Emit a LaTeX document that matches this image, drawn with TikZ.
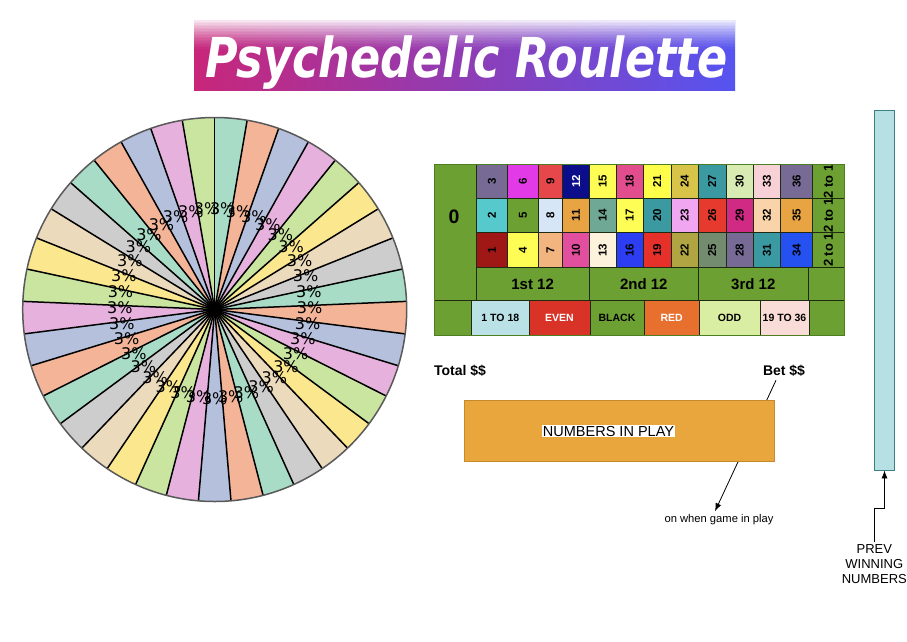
\documentclass[tikz,border=0pt]{standalone}
\usepackage{graphicx}
\usepackage{fontspec}
\setmainfont{Liberation Sans}
\newfontfamily\wheelfont{DejaVu Sans}
\newfontfamily\titlefont{DejaVu Sans Bold Oblique}
\usetikzlibrary{arrows.meta}

% wheel colours
\definecolor{pie0}{HTML}{A8DCC6}
\definecolor{pie1}{HTML}{F3B497}
\definecolor{pie2}{HTML}{B5C0DD}
\definecolor{pie3}{HTML}{E7B1DD}
\definecolor{pie4}{HTML}{CAE5A0}
\definecolor{pie5}{HTML}{FBE78E}
\definecolor{pie6}{HTML}{ECDABC}
\definecolor{pie7}{HTML}{CDCDCD}
% table colours
\definecolor{felt}{HTML}{6CA032}
\definecolor{feltdark}{HTML}{4E7E22}
\definecolor{cellline}{HTML}{1F2A12}
\definecolor{c1}{HTML}{A01816}  \definecolor{c2}{HTML}{55C9CB}  \definecolor{c3}{HTML}{776B96}
\definecolor{c4}{HTML}{FDFD55}  \definecolor{c5}{HTML}{6CA032}  \definecolor{c6}{HTML}{E23AE6}
\definecolor{c7}{HTML}{F2B57F}  \definecolor{c8}{HTML}{D7E6F6}  \definecolor{c9}{HTML}{E6474A}
\definecolor{c10}{HTML}{E34F9F} \definecolor{c11}{HTML}{E8A442} \definecolor{c12}{HTML}{0B0D8A}
\definecolor{c13}{HTML}{FDF2DC} \definecolor{c14}{HTML}{70A896} \definecolor{c15}{HTML}{FDFD55}
\definecolor{c16}{HTML}{2D3EF2} \definecolor{c17}{HTML}{FDFD55} \definecolor{c18}{HTML}{E24D8E}
\definecolor{c19}{HTML}{E6302A} \definecolor{c20}{HTML}{3B9AA1} \definecolor{c21}{HTML}{FDFD4A}
\definecolor{c22}{HTML}{B0A542} \definecolor{c23}{HTML}{F1A6F2} \definecolor{c24}{HTML}{D9C44A}
\definecolor{c25}{HTML}{738B6F} \definecolor{c26}{HTML}{E63A2E} \definecolor{c27}{HTML}{3B9AA1}
\definecolor{c28}{HTML}{776B96} \definecolor{c29}{HTML}{D02A85} \definecolor{c30}{HTML}{D8EBB3}
\definecolor{c31}{HTML}{3B9AA1} \definecolor{c32}{HTML}{F9D4AB} \definecolor{c33}{HTML}{F8D1D6}
\definecolor{c34}{HTML}{2451F0} \definecolor{c35}{HTML}{E8A442} \definecolor{c36}{HTML}{776B96}
\definecolor{low}{HTML}{B9E1E6}
\definecolor{even}{HTML}{D93327}
\definecolor{redbet}{HTML}{E8702F}
\definecolor{odd}{HTML}{D9EDA3}
\definecolor{high}{HTML}{F9DCD8}
% other colours
\definecolor{titleL}{HTML}{C8267A}
\definecolor{titleM}{HTML}{962CAE}
\definecolor{titleR}{HTML}{5654F0}
\definecolor{playfill}{HTML}{E8A63D}
\definecolor{playline}{HTML}{C48A2C}
\definecolor{barfill}{HTML}{B7E0E5}
\definecolor{barline}{HTML}{3D7F82}

\begin{document}
\begin{tikzpicture}[x=1pt, y=-1pt,
    grid/.style={draw=cellline, line width=0.9pt},
    num/.style={font=\fontsize{11.5}{12}\selectfont\bfseries, rotate=90, inner sep=0pt},
    colbet/.style={font=\fontsize{13}{14}\selectfont\bfseries, rotate=90, inner sep=0pt},
    dozen/.style={font=\fontsize{15}{16}\selectfont\bfseries, inner sep=0pt},
    outside/.style={font=\fontsize{10.5}{11}\selectfont\bfseries, inner sep=0pt},
    pct/.style={font=\wheelfont\fontsize{16}{16}\selectfont, inner sep=0pt},
    lbl/.style={font=\fontsize{14}{15}\selectfont\bfseries},
    link/.style={-{Latex[length=8pt, width=6pt]}, line width=0.8pt}
]
\fill[white] (0,0) rectangle (907,641);
\useasboundingbox (0,0) rectangle (907,641);

% Title
\shade[left color=titleL, middle color=titleM, right color=titleR] (194,20) rectangle (735,90);
\foreach \s in {0,...,19}
  \fill[white, opacity={0.88*(1-\s/20)^1.4}] (194,{20+1.5*\s}) rectangle (735,{21.5+1.5*\s});
\node[anchor=base, text=white, font=\titlefont\fontsize{55}{55}\selectfont] (title) at (467,77)
  {\scalebox{0.81}[1]{Psychedelic Roulette}};

% Wheel
\coordinate (wc) at (214.7,309.5);
\foreach \i in {0,...,36} {
  \pgfmathtruncatemacro\ci{mod(\i,8)}
  \pgfmathsetmacro\a{\i*360/37-90}
  \pgfmathsetmacro\b{(\i+1)*360/37-90}
  \fill[pie\ci] (wc) -- ++(\a:192) arc[start angle=\a, end angle=\b, radius=192] -- cycle;
}
\foreach \i in {0,...,36}
  \draw[line width=1.5pt] (wc) -- ++({\i*360/37-90}:192);
\draw[draw=black!65, line width=1.5pt] (wc) circle[radius=192];
\foreach \i in {0,...,36}
  \path (wc) ++({(\i+0.5)*360/37-90}:95) ++(0,-6) node[pct] (pct\i) {3\%};

% Table
\fill[felt] (434.3,164.3) rectangle (844.3,335);
\draw[grid] (434.3,164.3) rectangle (476,300.7);
\node[font=\fontsize{19.5}{20}\selectfont\bfseries] (zero) at (454,217) {0};

\foreach \xl/\xr [count=\c] in {476/507.7, 507.7/538.3, 538.3/562.7, 562.7/589.3,
    589.3/616, 616/643.3, 643.3/671, 671/698.3, 698.3/726, 726/753.3, 753.3/780.7, 780.7/812.7} {
  \foreach \yt/\yb/\d in {164.3/198.3/0, 198.3/232.7/1, 232.7/267.3/2} {
    \pgfmathtruncatemacro\n{3*\c-\d}
    \ifnum\n=12 \def\tcol{white}\else\def\tcol{black}\fi
    \filldraw[grid, fill=c\n] (\xl,\yt) rectangle (\xr,\yb);
    \node[num, text=\tcol] (n\n) at ({(\xl+\xr)/2},{(\yt+\yb)/2}) {\n};
  }
}

% 2 to 1
\foreach \yt/\yb [count=\r] in {164.3/198.3, 198.3/232.7, 232.7/267.3} {
  \draw[grid] (812.7,\yb) -- (844.3,\yb);
  \node[colbet] (col\r) at (828.5,{(\yt+\yb)/2}) {2 to 1};
}

% Dozens
\foreach \xl/\xr/\t [count=\k] in {476/589.3/1st 12, 589.3/698.3/2nd 12, 698.3/808.3/3rd 12} {
  \draw[grid] (\xl,267.3) rectangle (\xr,300.7);
  \node[dozen] (doz\k) at ({(\xl+\xr)/2},284.5) {\t};
}

% Outside bets
\foreach \xl/\xr/\fc/\tc/\t [count=\k] in {434.3/471.7/felt/black/, 471.7/529/low/black/1 TO 18,
    529/590/even/white/EVEN, 590/644/felt/black/BLACK, 644/699.3/redbet/white/RED,
    699.3/760/odd/black/ODD, 760/809/high/black/19 TO 36, 809/844.3/felt/black/} {
  \filldraw[grid, fill=\fc] (\xl,300.7) rectangle (\xr,335);
  \node[outside, text=\tc] (out\k) at ({(\xl+\xr)/2},318) {\t};
}
\draw[draw=feltdark, line width=0.9pt] (434.3,164.3) rectangle (844.3,335);

% Money
\node[lbl] (total) at (460,371) {Total \$\$};
\node[lbl] (bet) at (784,371) {Bet \$\$};
\node[font=\fontsize{11.2}{12}\selectfont] (onplay) at (719,520) {on when game in play};
\draw[link] ([xshift=-8pt]bet.south) -- ([xshift=-4pt]onplay.north);

\node[draw=playline, fill=playfill, line width=0.8pt, minimum width=310, minimum height=61] (play) at (619.3,430.5) {};
\node[fill=white, inner sep=1.2pt, font=\fontsize{14.5}{15}\selectfont] (playlbl) at (608.5,431) {NUMBERS IN PLAY};

% Previous numbers
\node[draw=barline, fill=barfill, line width=0.8pt, minimum width=20, minimum height=360] (prev) at (884.5,290) {};
\node[anchor=north, align=center, inner sep=0pt, outer sep=3.5pt, font=\fontsize{13}{15}\selectfont] (prevtxt) at (874.3,541.5)
  {PREV\\WINNING\\NUMBERS};
\draw[link] (prevtxt.north) -- ++(0,-33) -| (prev.south);

\end{tikzpicture}
\end{document}
